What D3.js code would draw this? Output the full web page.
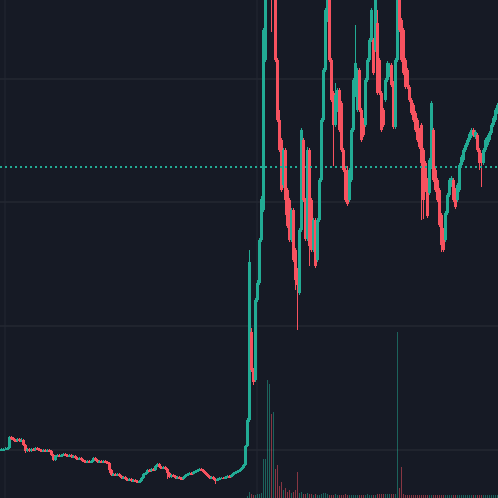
<!DOCTYPE html>
<html><head><meta charset="utf-8">
<script src="https://cdn.jsdelivr.net/npm/d3@7"></script>
<style>html,body{margin:0;padding:0;background:#161a25;overflow:hidden}</style>
</head><body><svg id="c" width="498" height="498"></svg>
<script>
// price values (arbitrary units), one candle per period
const open=[48,48.5,49,49,50,61,60,58,57,59,57,58,53,47,49,47,49,48,50,49,48,47,48,47,48,47,43,38,42,43,42,43,44,43,42,43,41,42,40,39,40,38,37,36,37,36,37,40,38,36,37,36.5,37,36,35,28,23,24,23,24,22,20,21,19,18,19,17,18,17,16,17,20,24,25,28,27,29,28,32,34,31,30,31,29,25,21,23,22,20,21,20,19,21,23,24,25,24.5,26,27,28,29,28,26,24,22,20,21,19,18,19,20,20.5,20,21,22,21.5,23,25,26,27,28,30,33,52,78,166,128,118,198,215,258,288,438,508,518,528,518,508,438,378,358,313,348,308,298,258,288,248,228,205,268,358,298,259,348,298,248,278,238,278,318,378,428,478,498,438,405,373,388,408,395,348,328,308,298,318,368,403,388,428,388,378,373,418,438,458,458,448,475,438,405,388,398,418,423,433,415,371,438,498,478,468,438,428,411,398,393,385,378,368,373,348,335,318,305,331,368,328,318,308,283,268,258,285,303,313,318,308,298,308,333,338,348,353,358,362,368,361,363,348,343,335,348,353,358,365,373,378,386];
const close=[49,49,49.5,50,61,60,58,57,59,57,58,53,47,49,47,49,48,50,49,48,47,48,47,48,47,43,38,42,43,42,43,44,43,42,43,41,42,40,39,40,38,37,36,37,36,37,40,38,36,37,36.5,37,36,35,28,23,24,23,24,22,20,21,19,18,19,17,18,17,16,17,20,24,25,28,27,29,28,32,34,31,30,31,29,25,21,23,22,20,21,20,19,21,23,24,25,24.5,26,27,28,29,28,26,24,22,20,21,19,18,19,20,20.5,20,21,22,21.5,23,25,26,27,28,30,33,52,78,236,128,116,198,215,258,299,468,518,538,538,508,538,438,378,348,308,348,298,272,258,288,238,218,213,268,368,298,259,348,252,248,278,232,278,318,378,428,488,508,438,398,373,403,408,368,348,328,298,294,328,368,418,435,428,388,358,363,418,438,458,488,425,503,405,405,368,373,418,435,433,413,371,438,508,468,438,425,411,411,398,385,378,368,358,351,335,298,308,282,338,395,318,308,298,273,253,248,285,303,318,320,298,291,313,333,341,348,353,358,364,368,363,366,348,335,335,348,358,361,365,373,380,388,393];
const high=[50,50,51,51,62,62,61,59,60,60,60,59,54,50,50,50,50,51,51,50,49,49,49,49,49,48,44,43,44,44,44,45,45,44,44,44,43,43,41,41,41,39,38,38,38,38,41,41,39,38,38,38,38,37,36,29,25,25,25,25,23,22,22,20,20,20,19,19,18,18,21,25,26,29,29,30,30,33,35,35,32,32,32,30,26,24,24,23,22,22,21,22,24,25,26,26,27,28,29,30,30,29,27,25,23,22,22,20,20,21,21,21,22,23,23,24,26,27,28,29,31,34,53,80,248,170,130,200,218,260,302,470,538,548,548,538,548,518,440,388,360,350,350,310,300,290,290,250,230,270,370,360,300,351,350,300,280,280,280,320,380,430,490,518,500,440,407,415,410,410,397,350,330,332,330,370,420,473,430,430,390,380,420,440,460,490,460,508,488,440,407,390,420,437,435,435,417,440,518,508,480,470,440,430,413,400,395,387,380,370,375,350,337,320,340,397,370,330,320,310,285,270,287,305,320,322,320,310,315,335,343,350,355,360,366,370,370,368,365,350,345,350,360,363,367,375,382,390,395];
const low=[47,47.5,48,48,49,58,57,56,56,56,56,52,45,46,46,46,47,47,48,47,46,46,46,46,46,42,37,37,41,41,41,42,42,41,41,40,40,39,38,38,37,36,35,35,35,35,36,37,35,35,35.5,35.5,35,34,25,22,22,22,22,21,19,19,18,17,17,16,16,16,15,15,16,19,23,24,26,26,27,27,31,30,29,29,28,19,20,20,21,19,19,19,18,18,20,22,23,23.5,23.5,25,26,27,27,25,23,21,19,19,18,14,17,18,19,19,19,20,20.5,20.5,22,24,25,26,27,29,32,51,76,126,113,116,196,213,256,286,436,503,513,466,508,436,376,346,306,310,283,270,256,256,236,208,168,203,266,296,257,257,232,246,246,230,236,276,316,376,426,476,436,396,332,371,386,366,346,326,296,292,296,316,366,401,386,386,356,361,371,416,436,456,423,446,403,403,366,371,396,416,421,411,369,369,436,466,436,423,409,409,396,383,376,366,356,349,278,279,306,280,303,329,316,306,296,271,246,246,256,283,301,311,296,289,296,306,331,336,346,351,356,360,361,359,346,328,311,333,346,351,356,363,371,376,384];
const volume=[
0,0,0,0,0,0,0,0,0,0, 0,0,0,0,0,0,0,0,0,0, 0,0,0,0,0,0,0,0,0,0, 0,0,0,0,0,0,0,0,0,0,
0,0,0,0,0,0,0,0,0,0, 0,0,0,0,0,0,0,0,0,0, 0,0,0,0,0,0,0,0,0,0, 0,0,0,0,0,0,0,0,0,0,
0,0,0,0,0,0,0,0,0,0, 0,0,0,0,0,0,0,0,0,0, 0,0,0,0,0,0,0,0,0,0, 0,0,0,0,0,0,0,0,0,0,
0,0,0,2,6,4,3,3,4,4,
5,39,39,118,114,84,86,29,33,12,
16,8,10,6,8,5,6,8,26,5,
6,4,4,5,4,4,3,4,3,3,
4,5,5,4,3,3,3,4,3,3,
3,3,4,3,3,3,3,3,3,3,
3,3,3,4,3,3,3,3,4,4,
4,4,4,4,4,4,4,4,166,10,
31,4,3,3,3,3,3,3,3,3,
3,3,3,3,3,3,3,3,3,3,
3,3,3,3,3,3,3,3,3,3,
3,3,3,3,3,3,3,3,3,3,
3,3,3,3,3,3,3,3,3];
const priceGridValues=[49,173,297,420];
const timeGridIndex=[2,128];
const markerPrice=331;

const W=498,H=498;
const UP="#22ab94", DOWN="#f7525f";
const idx=d3.range(open.length);
const svg=d3.select("#c");
const x=d3.scaleBand().domain(idx).range([0,W]).padding(0);
const y=d3.scaleLinear().domain([0,498]).range([H,0]);
const yv=d3.scaleLinear().domain([0,498]).range([H,0]);

svg.append("rect").attr("width",W).attr("height",H).attr("fill","#161a25");

// horizontal grid via axis
const gy=svg.append("g").call(d3.axisRight(y).tickValues(priceGridValues).tickSize(W).tickFormat(""));
gy.select(".domain").remove();
gy.selectAll("line").attr("stroke","#2a2e39").attr("stroke-width",1).attr("transform","translate(0,0.5)");
// vertical grid via axis
const gx=svg.append("g").call(d3.axisBottom(x).tickValues(timeGridIndex).tickSize(H).tickFormat(""));
gx.select(".domain").remove();
gx.selectAll("line").attr("stroke","#232733").attr("stroke-width",1);

const up=i=>close[i]>=open[i];

// volume
svg.append("g").selectAll("rect").data(idx.filter(i=>volume[i]>0)).join("rect")
  .attr("x",i=>x(i)+0.5).attr("width",1)
  .attr("y",i=>yv(volume[i])).attr("height",i=>H-yv(volume[i]))
  .attr("fill",i=>up(i)?UP:DOWN).attr("fill-opacity",0.5)
  .attr("shape-rendering","crispEdges");

// wicks
svg.append("g").selectAll("line").data(idx).join("line")
  .attr("x1",i=>x(i)+x.bandwidth()/2+0.5).attr("x2",i=>x(i)+x.bandwidth()/2+0.5)
  .attr("y1",i=>y(high[i])).attr("y2",i=>y(low[i]))
  .attr("stroke",i=>up(i)?UP:DOWN).attr("stroke-width",1);

// bodies
svg.append("g").selectAll("rect").data(idx).join("rect")
  .attr("x",i=>x(i)).attr("width",x.bandwidth()+1)
  .attr("y",i=>y(Math.max(open[i],close[i])))
  .attr("height",i=>Math.max(1.5,Math.abs(y(open[i])-y(close[i]))))
  .attr("fill",i=>up(i)?UP:DOWN)
  .attr("shape-rendering","crispEdges");

// dotted marker line
svg.append("line").attr("x1",0).attr("x2",W)
  .attr("y1",Math.round(y(markerPrice))).attr("y2",Math.round(y(markerPrice)))
  .attr("stroke",UP).attr("stroke-width",2).attr("stroke-dasharray","2,3")
  .attr("shape-rendering","crispEdges");
</script></body></html>
